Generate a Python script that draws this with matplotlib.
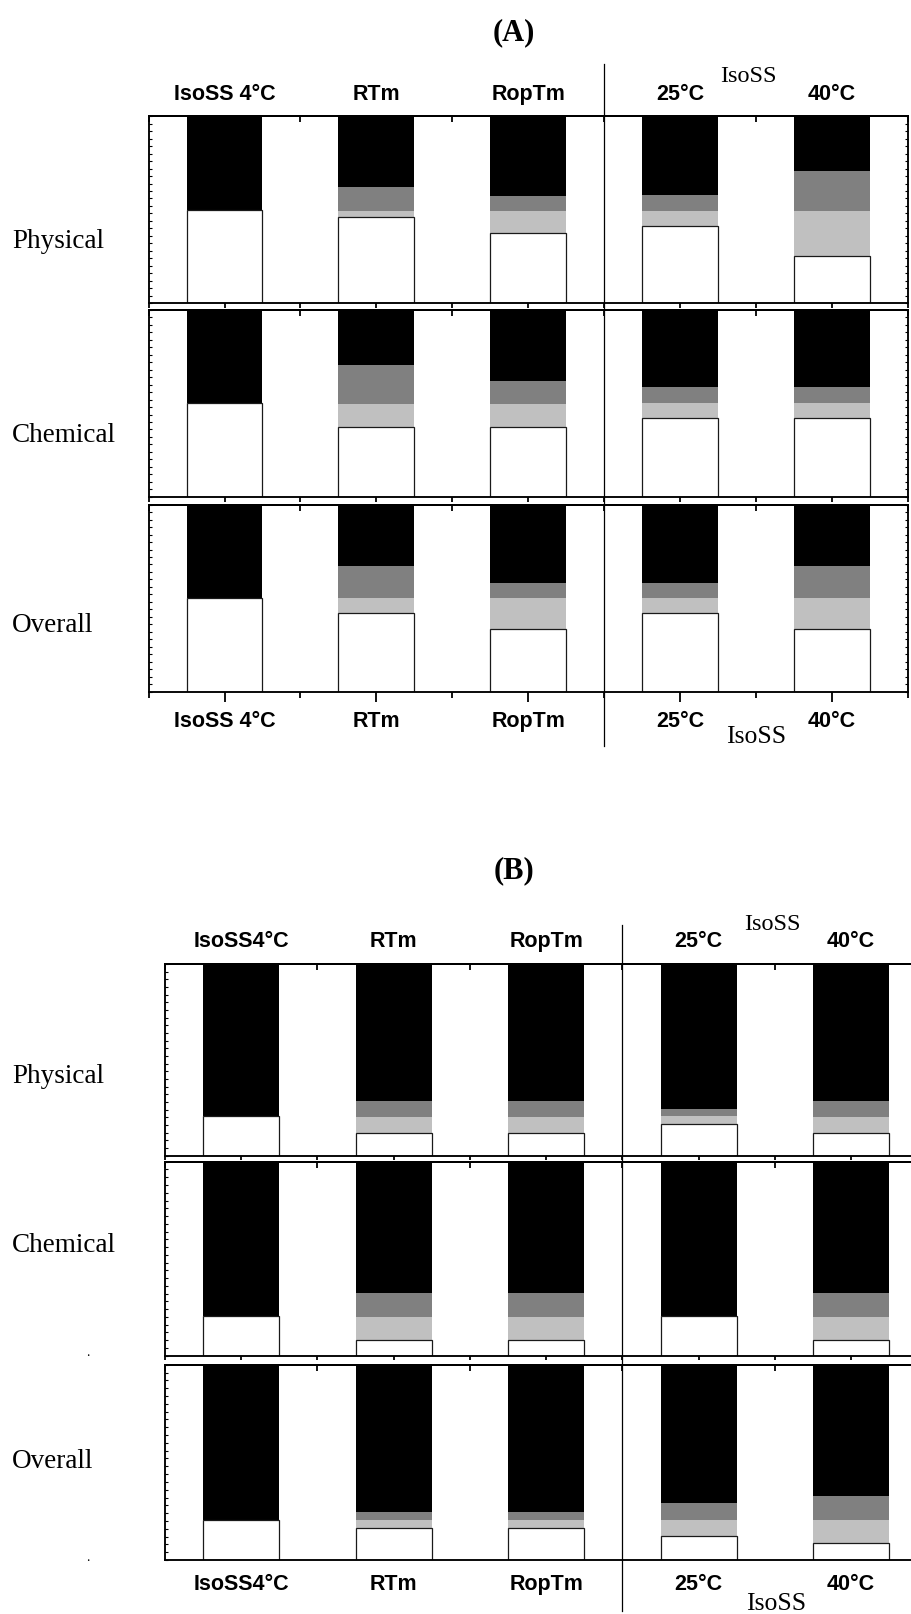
import matplotlib
matplotlib.use("Agg")
import matplotlib.pyplot as plt
import numpy as np
from matplotlib.lines import Line2D
from matplotlib.ticker import FixedLocator, NullLocator
from matplotlib.transforms import blended_transform_factory

W, H = 911, 1615

conditions_a = ["IsoSS 4°C", "RTm", "RopTm", "25°C", "40°C"]
conditions_b = ["IsoSS4°C", "RTm", "RopTm", "25°C", "40°C"]
properties = ["Physical", "Chemical", "Overall"]

# Stacked shares (%) per condition, bottom to top: white, light grey, dark grey, black
# ---- (A) ----
a_phys_white = [50, 46, 37.5, 41.5, 25]
a_phys_light = [0, 3.5, 12, 8, 24.5]
a_phys_dark = [0, 12.5, 8, 8.5, 21]
a_phys_black = [50, 38, 42.5, 42, 29.5]

a_chem_white = [50, 37.5, 37.5, 42, 42]
a_chem_light = [0, 12, 12, 8, 8]
a_chem_dark = [0, 21, 12.5, 8.5, 8.5]
a_chem_black = [50, 29.5, 38, 41.5, 41.5]

a_all_white = [50, 42, 33.5, 42, 33.5]
a_all_light = [0, 8, 16.5, 8, 16.5]
a_all_dark = [0, 17, 8, 8, 17]
a_all_black = [50, 33, 42, 42, 33]

# ---- (B) ----
b_phys_white = [20.5, 12, 12, 16.5, 12]
b_phys_light = [0, 8, 8, 4, 8]
b_phys_dark = [0, 8.5, 8.5, 4, 8.5]
b_phys_black = [79.5, 71.5, 71.5, 75.5, 71.5]

b_chem_white = [20.5, 8, 8, 20.5, 8]
b_chem_light = [0, 12, 12, 0, 12]
b_chem_dark = [0, 12.5, 12.5, 0, 12.5]
b_chem_black = [79.5, 67.5, 67.5, 79.5, 67.5]

b_all_white = [20.5, 16.5, 16.5, 12.5, 8.5]
b_all_light = [0, 4, 4, 8, 12]
b_all_dark = [0, 4, 4, 8.5, 12.5]
b_all_black = [79.5, 75.5, 75.5, 71, 67]

panel_a = [
    (a_phys_white, a_phys_light, a_phys_dark, a_phys_black),
    (a_chem_white, a_chem_light, a_chem_dark, a_chem_black),
    (a_all_white, a_all_light, a_all_dark, a_all_black),
]
panel_b = [
    (b_phys_white, b_phys_light, b_phys_dark, b_phys_black),
    (b_chem_white, b_chem_light, b_chem_dark, b_chem_black),
    (b_all_white, b_all_light, b_all_dark, b_all_black),
]

seg_colors = ["#ffffff", "#c0c0c0", "#808080", "#000000"]
SANS = "Liberation Sans"
SERIF = "Liberation Serif"
SPINE_LW = 1.35
TICK_FS = 15.5

fig = plt.figure(figsize=(W / 100, H / 100), dpi=100)


def px_axes(left, top, width, bottom):
    return fig.add_axes([left / W, 1 - bottom / H, width / W, (bottom - top) / H])


def draw_row(ax, series, labels, top_row, bottom_row, panel):
    n = len(labels)
    x = np.arange(n) + 0.5
    base = np.zeros(n)
    for k, (vals, col) in enumerate(zip(series, seg_colors)):
        vals = np.asarray(vals, dtype=float)
        if k == 0:
            ax.bar(x, vals, 0.5, bottom=base, color=col, edgecolor="#1a1a1a",
                   linewidth=0.9, zorder=3)
        else:
            ax.bar(x, vals, 0.5, bottom=base, color=col, edgecolor="none",
                   linewidth=0, zorder=2)
        base += vals
    ax.set_xlim(0, n)
    ax.set_ylim(0, 100)
    for sp in ax.spines.values():
        sp.set_linewidth(SPINE_LW)
        sp.set_zorder(5)

    # bottom axis: labelled ticks at bar centres, short ticks between
    ax.set_xticks(x)
    ax.xaxis.set_minor_locator(FixedLocator(np.arange(n + 1)))
    if panel == "A":
        maj_len, min_len = (7.2, 4.0) if bottom_row else (3.5, 3.5)
    else:
        maj_len, min_len = (0, 0) if bottom_row else (3.0, 3.0)
    ax.tick_params(axis="x", which="major", direction="out", length=maj_len,
                   width=1.3, top=False, bottom=True)
    ax.tick_params(axis="x", which="minor", direction="out", length=min_len,
                   width=1.3, top=False, bottom=True)
    if bottom_row:
        pad = 5.8 if panel == "A" else 9.5
        ax.set_xticklabels(labels, fontfamily=SANS, fontweight="bold", fontsize=TICK_FS)
        ax.tick_params(axis="x", which="major", pad=pad)
    else:
        ax.set_xticklabels([])

    # top axis: inward ticks
    sec = ax.secondary_xaxis("top")
    sec.set_xticks(x)
    sec.xaxis.set_minor_locator(FixedLocator(np.arange(n + 1)))
    sec.tick_params(axis="x", which="major", direction="in", length=2, width=1.3)
    sec.tick_params(axis="x", which="minor", direction="in", length=4.3, width=1.3)
    for sp in sec.spines.values():
        sp.set_linewidth(SPINE_LW)
    if top_row:
        sec.set_xticklabels(labels, fontfamily=SANS, fontweight="bold", fontsize=TICK_FS)
        sec.tick_params(axis="x", which="major", pad=9.0)
    else:
        sec.set_xticklabels([])

    # y axis: only fine inward ticks, no labels
    ax.yaxis.set_major_locator(NullLocator())
    ax.yaxis.set_minor_locator(FixedLocator(np.arange(0, 101, 4)))
    ax.tick_params(axis="y", which="minor", direction="in", length=2, width=0.8,
                   left=True, right=(panel == "A"), labelleft=False)


# ---------------- Panel (A) ----------------
rows_a = [(117.3, 304.0), (311.0, 497.7), (505.7, 692.5)]
axes_a = []
for i, ((top, bot), series) in enumerate(zip(rows_a, panel_a)):
    ax = px_axes(148.6, top, 759.0, bot)
    draw_row(ax, series, conditions_a, i == 0, i == 2, "A")
    axes_a.append(ax)

fig.text(514 / W, 1 - 32.5 / H, "(A)", ha="center", va="center",
         family=SERIF, weight="bold", fontsize=22)
for name, yb in zip(properties, [248.3, 441.7, 632.0]):
    fig.text(12 / W, 1 - yb / H, name, ha="left", va="baseline",
             family=SERIF, fontsize=19.5)
fig.text(748 / W, 1 - 81.7 / H, "IsoSS", ha="center", va="baseline",
         family=SERIF, fontsize=17.5)
fig.text(756 / W, 1 - 743 / H, "IsoSS", ha="center", va="baseline",
         family=SERIF, fontsize=18.5)
tr_a = blended_transform_factory(axes_a[0].transData, fig.transFigure)
fig.add_artist(Line2D([3, 3], [1 - 65 / H, 1 - 747 / H], transform=tr_a,
                      color="black", lw=0.9, zorder=10))

# ---------------- Panel (B) ----------------
rows_b = [(965.0, 1156.7), (1162.7, 1356.7), (1365.7, 1561.0)]
axes_b = []
for i, ((top, bot), series) in enumerate(zip(rows_b, panel_b)):
    ax = px_axes(164.9, top, 762.5, bot)
    draw_row(ax, series, conditions_b, i == 0, i == 2, "B")
    axes_b.append(ax)

fig.text(514 / W, 1 - 870.5 / H, "(B)", ha="center", va="center",
         family=SERIF, weight="bold", fontsize=22)
for name, yb in zip(properties, [1083, 1252, 1468]):
    fig.text(12 / W, 1 - yb / H, name, ha="left", va="baseline",
             family=SERIF, fontsize=19.5)
fig.text(772 / W, 1 - 930 / H, "IsoSS", ha="center", va="baseline",
         family=SERIF, fontsize=17.5)
fig.text(776 / W, 1 - 1610 / H, "IsoSS", ha="center", va="baseline",
         family=SERIF, fontsize=18.5)
for yd in [1356, 1561]:
    fig.text(88 / W, 1 - yd / H, ".", ha="center", va="baseline",
             family=SERIF, fontsize=10)
tr_b = blended_transform_factory(axes_b[0].transData, fig.transFigure)
fig.add_artist(Line2D([3, 3], [1 - 926 / H, 1 - 1612 / H], transform=tr_b,
                      color="black", lw=0.9, zorder=10))

fig.savefig("out.png", dpi=100)
